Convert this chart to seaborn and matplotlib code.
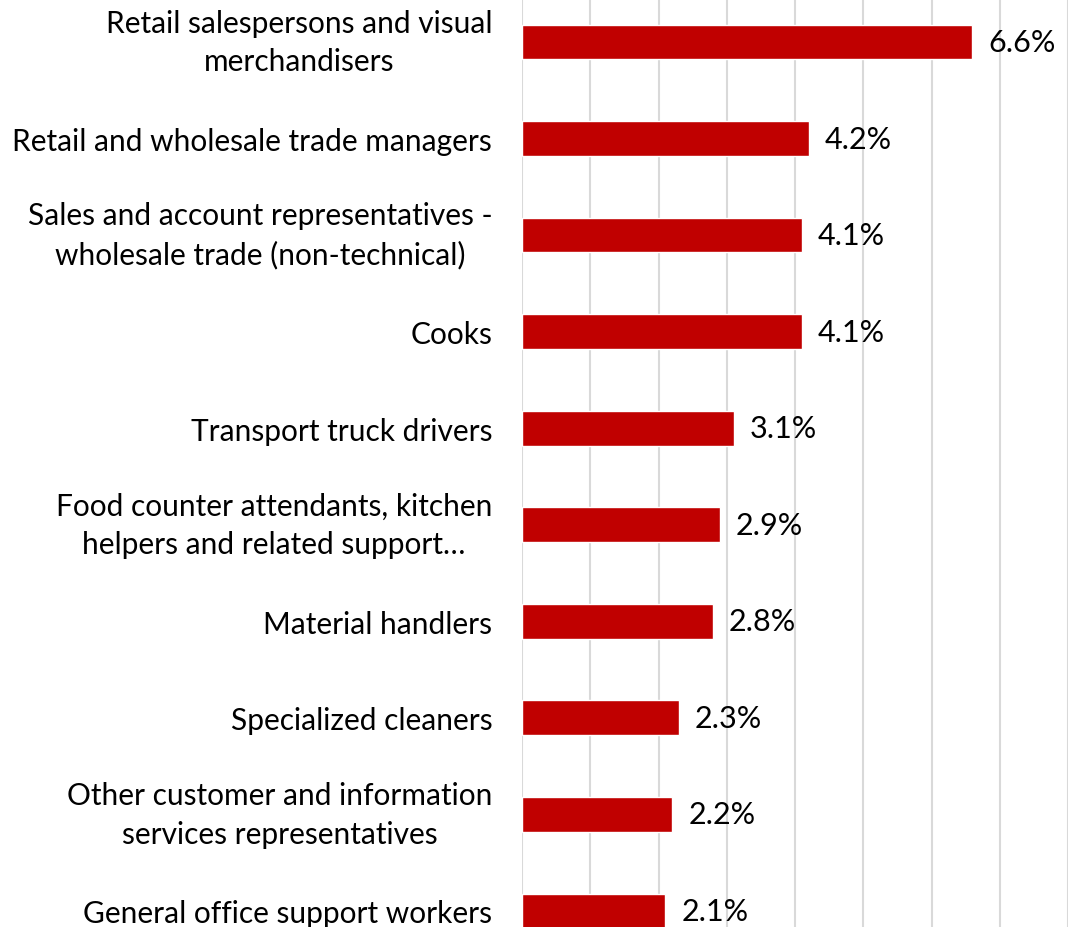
import matplotlib
matplotlib.use("Agg")
import matplotlib.pyplot as plt
import seaborn as sns
import pandas as pd

occupations = [
    "Retail salespersons and visual\nmerchandisers",
    "Retail and wholesale trade managers",
    "Sales and account representatives -\nwholesale trade (non-technical)",
    "Cooks",
    "Transport truck drivers",
    "Food counter attendants, kitchen\nhelpers and related support\u2026",
    "Material handlers",
    "Specialized cleaners",
    "Other customer and information\nservices representatives",
    "General office support workers",
]
shares = [6.6, 4.2, 4.1, 4.1, 3.1, 2.9, 2.8, 2.3, 2.2, 2.1]

df = pd.DataFrame({"occupation": occupations, "share": shares})

sns.set_theme(style="white")
plt.rcParams["font.family"] = ["Lato", "DejaVu Sans"]

W, H = 1068, 928
fig = plt.figure(figsize=(W / 100, H / 100), dpi=100)
ax = fig.add_axes([522 / W, 0, 546 / W, 1])

sns.barplot(data=df, x="share", y="occupation", orient="h",
            color="#C00000", width=0.36, saturation=1, ax=ax, zorder=3)

ax.set_xlim(0, 8.0)
ax.set_ylim(9.166, -0.445)
ax.set_xticks(range(0, 9))
ax.xaxis.grid(True, color="#D9D9D9", linewidth=1.5, zorder=0)
ax.yaxis.grid(False)
ax.set_axisbelow(True)
for s in ax.spines.values():
    s.set_visible(False)
ax.set_xlabel("")
ax.set_ylabel("")
ax.tick_params(axis="x", bottom=False, labelbottom=False)
ax.tick_params(axis="y", left=False, pad=15.5, labelsize=21.5, labelcolor="black")
for lab in ax.get_yticklabels():
    lab.set_multialignment("center")
    lab.set_linespacing(1.45)
    if "\n" in lab.get_text():
        lab.set_verticalalignment("center")

for i, v in enumerate(shares):
    ax.annotate(f"{v:.1f}%", xy=(v, i), xytext=(16, 0), textcoords="offset pixels",
                ha="left", va="center", fontsize=22, color="black")

fig.savefig("out.png", dpi=100)
